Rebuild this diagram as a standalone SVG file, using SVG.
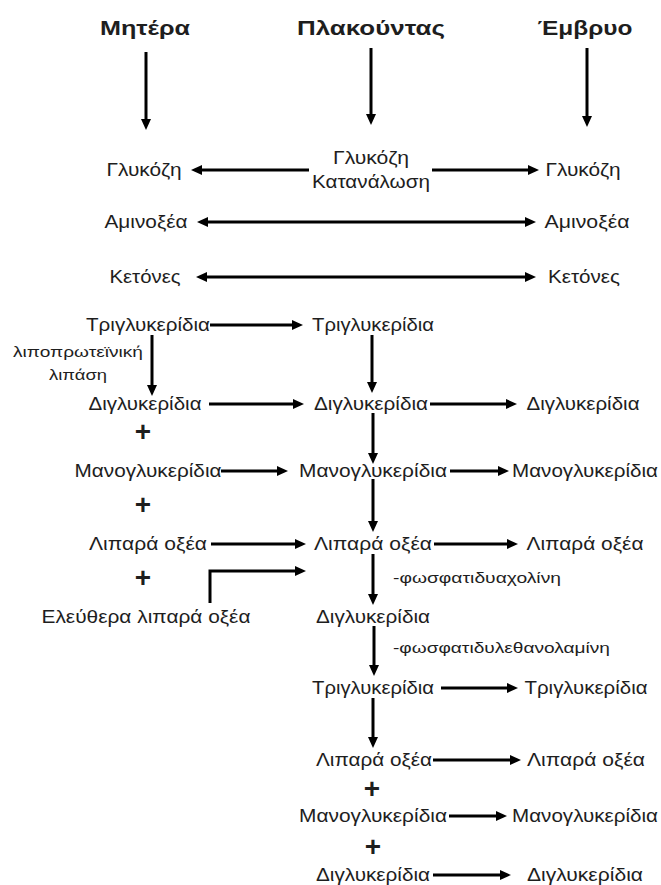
<svg xmlns="http://www.w3.org/2000/svg" width="661" height="885" viewBox="0 0 661 885">
<defs>
<style>
text{font-family:"Liberation Sans",Arial,"Noto Sans",sans-serif;fill:#1e1e1e;text-anchor:middle}
.h{font-size:21px;font-weight:bold}
.t{font-size:18px}
.s{font-size:14px}
.sl{font-size:14px;text-anchor:start}
.p{font-size:28px;font-weight:bold}
.c line,.c path{stroke:#000;stroke-width:3;fill:none}
.a{marker-end:url(#ah)}
.d{marker-end:url(#ah);marker-start:url(#ah)}
</style>
<marker id="ah" markerUnits="userSpaceOnUse" markerWidth="12" markerHeight="11" refX="2" refY="5" orient="auto-start-reverse" viewBox="0 0 12 10">
<path d="M0,0 L11,5 L0,10 z" fill="#000"/>
</marker>
</defs>
<rect width="661" height="885" fill="#fff"/>

<g id="headers">
<g id="h-mother"><text class="h" x="145" y="35" textLength="90" lengthAdjust="spacingAndGlyphs">Μητέρα</text></g>
<g id="h-placenta"><text class="h" x="371" y="35" textLength="148" lengthAdjust="spacingAndGlyphs">Πλακούντας</text></g>
<g id="h-fetus"><text class="h" x="585" y="35" textLength="95" lengthAdjust="spacingAndGlyphs">Έμβρυο</text></g>
</g>

<g id="nodes">
<g id="m-glucose"><text class="t" x="144" y="176" textLength="75" lengthAdjust="spacingAndGlyphs">Γλυκόζη</text></g>
<g id="p-glucose"><text class="t" x="371" y="164" textLength="76" lengthAdjust="spacingAndGlyphs">Γλυκόζη</text><text class="t" x="371" y="188" textLength="118" lengthAdjust="spacingAndGlyphs">Κατανάλωση</text></g>
<g id="f-glucose"><text class="t" x="583" y="176" textLength="75" lengthAdjust="spacingAndGlyphs">Γλυκόζη</text></g>

<g id="m-amino"><text class="t" x="146" y="228" textLength="83" lengthAdjust="spacingAndGlyphs">Αμινοξέα</text></g>
<g id="f-amino"><text class="t" x="587" y="228" textLength="85" lengthAdjust="spacingAndGlyphs">Αμινοξέα</text></g>

<g id="m-ketones"><text class="t" x="145" y="283" textLength="71" lengthAdjust="spacingAndGlyphs">Κετόνες</text></g>
<g id="f-ketones"><text class="t" x="584" y="283" textLength="72" lengthAdjust="spacingAndGlyphs">Κετόνες</text></g>

<g id="m-trigly"><text class="t" x="148" y="331" textLength="124" lengthAdjust="spacingAndGlyphs">Τριγλυκερίδια</text></g>
<g id="p-trigly"><text class="t" x="373" y="331" textLength="122" lengthAdjust="spacingAndGlyphs">Τριγλυκερίδια</text></g>
<g id="lipase-label"><text class="s" x="78" y="357" textLength="130" lengthAdjust="spacingAndGlyphs">λιποπρωτεϊνική</text><text class="s" x="78" y="380" textLength="58" lengthAdjust="spacingAndGlyphs">λιπάση</text></g>

<g id="m-digly"><text class="t" x="145" y="410" textLength="113" lengthAdjust="spacingAndGlyphs">Διγλυκερίδια</text></g>
<g id="p-digly"><text class="t" x="371" y="410" textLength="114" lengthAdjust="spacingAndGlyphs">Διγλυκερίδια</text></g>
<g id="f-digly"><text class="t" x="583" y="410" textLength="113" lengthAdjust="spacingAndGlyphs">Διγλυκερίδια</text></g>
<g id="plus1"><text class="p" x="143" y="441">+</text></g>

<g id="m-mono"><text class="t" x="148" y="477" textLength="147" lengthAdjust="spacingAndGlyphs">Μανογλυκερίδια</text></g>
<g id="p-mono"><text class="t" x="373" y="477" textLength="148" lengthAdjust="spacingAndGlyphs">Μανογλυκερίδια</text></g>
<g id="f-mono"><text class="t" x="585" y="477" textLength="146" lengthAdjust="spacingAndGlyphs">Μανογλυκερίδια</text></g>
<g id="plus2"><text class="p" x="143" y="514">+</text></g>

<g id="m-fatty"><text class="t" x="148" y="550" textLength="118" lengthAdjust="spacingAndGlyphs">Λιπαρά οξέα</text></g>
<g id="p-fatty"><text class="t" x="373" y="550" textLength="118" lengthAdjust="spacingAndGlyphs">Λιπαρά οξέα</text></g>
<g id="f-fatty"><text class="t" x="585" y="550" textLength="117" lengthAdjust="spacingAndGlyphs">Λιπαρά οξέα</text></g>
<g id="plus3"><text class="p" x="143" y="587">+</text></g>
<g id="m-free-fatty"><text class="t" x="146" y="623" textLength="209" lengthAdjust="spacingAndGlyphs">Ελεύθερα λιπαρά οξέα</text></g>
<g id="pc-label"><text class="sl" x="393" y="583" textLength="168" lengthAdjust="spacingAndGlyphs">-φωσφατιδυαχολίνη</text></g>

<g id="p-digly2"><text class="t" x="373" y="623" textLength="114" lengthAdjust="spacingAndGlyphs">Διγλυκερίδια</text></g>
<g id="pe-label"><text class="sl" x="393" y="653" textLength="217" lengthAdjust="spacingAndGlyphs">-φωσφατιδυλεθανολαμίνη</text></g>

<g id="p-trigly2"><text class="t" x="373" y="694" textLength="122" lengthAdjust="spacingAndGlyphs">Τριγλυκερίδια</text></g>
<g id="f-trigly2"><text class="t" x="586" y="694" textLength="123" lengthAdjust="spacingAndGlyphs">Τριγλυκερίδια</text></g>

<g id="p-fatty2"><text class="t" x="374" y="766" textLength="116" lengthAdjust="spacingAndGlyphs">Λιπαρά οξέα</text></g>
<g id="f-fatty2"><text class="t" x="586" y="766" textLength="118" lengthAdjust="spacingAndGlyphs">Λιπαρά οξέα</text></g>
<g id="plus4"><text class="p" x="372" y="798">+</text></g>

<g id="p-mono2"><text class="t" x="373" y="822" textLength="148" lengthAdjust="spacingAndGlyphs">Μανογλυκερίδια</text></g>
<g id="f-mono2"><text class="t" x="585" y="822" textLength="146" lengthAdjust="spacingAndGlyphs">Μανογλυκερίδια</text></g>
<g id="plus5"><text class="p" x="373" y="856">+</text></g>

<g id="p-digly3"><text class="t" x="373" y="881" textLength="114" lengthAdjust="spacingAndGlyphs">Διγλυκερίδια</text></g>
<g id="f-digly3"><text class="t" x="585" y="881" textLength="116" lengthAdjust="spacingAndGlyphs">Διγλυκερίδια</text></g>
</g>

<g id="connectors" class="c">
<line class="a" x1="146" y1="52" x2="146" y2="121"/>
<line class="a" x1="371" y1="48" x2="371" y2="116"/>
<line class="a" x1="587" y1="48" x2="587" y2="118"/>

<line class="a" x1="309" y1="170" x2="200" y2="170"/>
<line class="a" x1="432" y1="170" x2="530" y2="170"/>
<line class="d" x1="206" y1="222" x2="527" y2="222"/>
<line class="d" x1="205" y1="277" x2="527" y2="277"/>

<line class="a" x1="210" y1="325" x2="294" y2="325"/>
<line class="a" x1="152" y1="335" x2="152" y2="387"/>
<line class="a" x1="372" y1="335" x2="372" y2="384"/>

<line class="a" x1="209" y1="404" x2="295" y2="404"/>
<line class="a" x1="430" y1="404" x2="508" y2="404"/>
<line class="a" x1="373" y1="413" x2="373" y2="455"/>

<line class="a" x1="221" y1="471" x2="279" y2="471"/>
<line class="a" x1="450" y1="471" x2="500" y2="471"/>
<line class="a" x1="373" y1="479" x2="373" y2="523"/>

<line class="a" x1="211" y1="544" x2="297" y2="544"/>
<line class="a" x1="434" y1="544" x2="509" y2="544"/>
<path class="a" d="M210,603 V571 H297"/>
<line class="a" x1="373" y1="554" x2="373" y2="596"/>

<line class="a" x1="374" y1="626" x2="374" y2="667"/>
<line class="a" x1="441" y1="688" x2="509" y2="688"/>
<line class="a" x1="373" y1="698" x2="373" y2="739"/>

<line class="a" x1="433" y1="760" x2="512" y2="760"/>
<line class="a" x1="449" y1="816" x2="498" y2="816"/>
<line class="a" x1="433" y1="875" x2="502" y2="875"/>
</g>
</svg>
